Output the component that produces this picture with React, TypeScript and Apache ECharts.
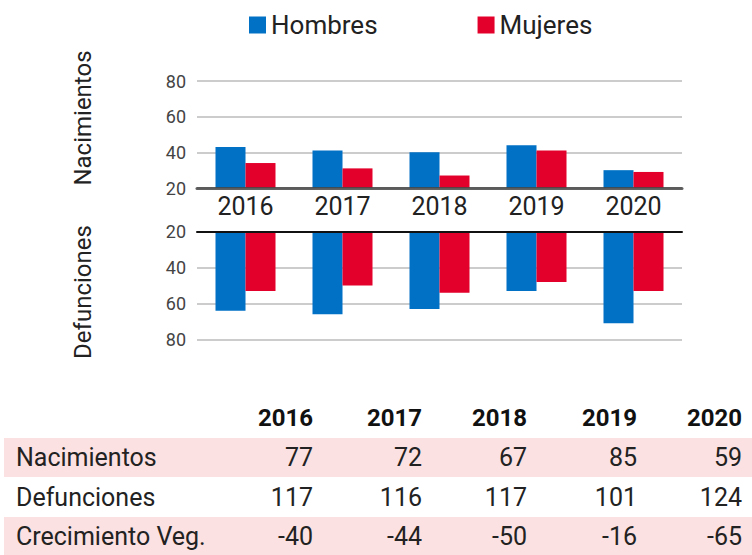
import React, { useEffect, useRef } from "react";
import * as echarts from "echarts";

const categories = ["2016", "2017", "2018", "2019", "2020"];
const nacHombres = [43, 41, 40, 44, 30];
const nacMujeres = [34, 31, 27, 41, 29];
const defHombres = [64, 66, 63, 53, 71];
const defMujeres = [53, 50, 54, 48, 53];

const rowLabels = ["Nacimientos", "Defunciones", "Crecimiento Veg."];
const tableNacimientos = [77, 72, 67, 85, 59];
const tableDefunciones = [117, 116, 117, 101, 124];
const tableCrecimiento = [-40, -44, -50, -16, -65];

const BLUE = "#0071C5";
const RED = "#E3002B";
const FONT = "Roboto";

export default function App() {
  const ref = useRef<HTMLDivElement>(null);
  useEffect(() => {
    if (!ref.current) return;
    const chart = echarts.init(ref.current, undefined, { renderer: "svg" });

    const colRight = [313, 422, 527, 637, 742];
    const rowY = [457, 497, 536];
    const tableRows = [tableNacimientos, tableDefunciones, tableCrecimiento];
    const graphics: any[] = [];
    graphics.push({ type: "rect", shape: { x: 4, y: 438, width: 748, height: 39 }, style: { fill: "#FBE1E1" }, z: 0 });
    graphics.push({ type: "rect", shape: { x: 4, y: 517, width: 748, height: 38 }, style: { fill: "#FBE1E1" }, z: 0 });
    categories.forEach((c, i) => {
      graphics.push({
        type: "text", x: colRight[i], y: 418, z: 2,
        style: { text: c, align: "right", verticalAlign: "middle", font: `bold 24px ${FONT}`, fill: "#111" },
      });
    });
    rowLabels.forEach((lab, r) => {
      graphics.push({
        type: "text", x: 16, y: rowY[r], z: 2,
        style: { text: lab, align: "left", verticalAlign: "middle", font: `25px ${FONT}`, fill: "#222" },
      });
      tableRows[r].forEach((v, i) => {
        graphics.push({
          type: "text", x: colRight[i], y: rowY[r], z: 2,
          style: { text: String(v), align: "right", verticalAlign: "middle", font: `25px ${FONT}`, fill: "#222" },
        });
      });
    });
    graphics.push({
      type: "text", x: 83, y: 118, rotation: Math.PI / 2, z: 2,
      style: { text: "Nacimientos", align: "center", verticalAlign: "middle", font: `24px ${FONT}`, fill: "#222" },
    });
    graphics.push({
      type: "text", x: 83, y: 292, rotation: Math.PI / 2, z: 2,
      style: { text: "Defunciones", align: "center", verticalAlign: "middle", font: `24px ${FONT}`, fill: "#222" },
    });

    const axisLabelStyle = { fontSize: 18, color: "#444", fontFamily: FONT, margin: 11 };
    const splitLine = { show: true, lineStyle: { color: "#CCCCCC", width: 2 } };

    chart.setOption({
      animation: false,
      textStyle: { fontFamily: FONT },
      legend: {
        top: 7,
        left: 244,
        icon: "rect",
        itemWidth: 17,
        itemHeight: 17,
        itemGap: 100,
        textStyle: { fontSize: 26, color: "#222", fontFamily: FONT },
        data: ["Hombres", "Mujeres"],
      },
      grid: [
        { left: 197, right: 70, top: 81, height: 107 },
        { left: 197, right: 70, top: 231.5, height: 108 },
      ],
      xAxis: [
        {
          type: "category", gridIndex: 0, data: categories, position: "bottom", z: 5,
          axisLine: { lineStyle: { color: "rgba(70,70,70,0.85)", width: 3 } },
          axisTick: { show: false },
          axisLabel: { fontSize: 25, color: "#222", fontFamily: FONT, margin: 6 },
        },
        {
          type: "category", gridIndex: 1, data: categories, position: "top", z: 5,
          axisLine: { lineStyle: { color: "#111", width: 2 } },
          axisTick: { show: false },
          axisLabel: { show: false },
        },
      ],
      yAxis: [
        {
          type: "value", gridIndex: 0, min: 20, max: 80, interval: 20, startValue: 20,
          axisLine: { show: false }, axisTick: { show: false },
          axisLabel: axisLabelStyle, splitLine,
        },
        {
          type: "value", gridIndex: 1, min: 20, max: 80, interval: 20, startValue: 20, inverse: true,
          axisLine: { show: false }, axisTick: { show: false },
          axisLabel: axisLabelStyle, splitLine,
        },
      ],
      series: [
        { name: "Hombres", type: "bar", xAxisIndex: 0, yAxisIndex: 0, data: nacHombres, barWidth: 30, barGap: "0%", clip: true, itemStyle: { color: BLUE } },
        { name: "Mujeres", type: "bar", xAxisIndex: 0, yAxisIndex: 0, data: nacMujeres, barWidth: 30, barGap: "0%", clip: true, itemStyle: { color: RED } },
        { name: "Hombres", type: "bar", xAxisIndex: 1, yAxisIndex: 1, data: defHombres, barWidth: 30, barGap: "0%", clip: true, itemStyle: { color: BLUE } },
        { name: "Mujeres", type: "bar", xAxisIndex: 1, yAxisIndex: 1, data: defMujeres, barWidth: 30, barGap: "0%", clip: true, itemStyle: { color: RED } },
      ],
      graphic: graphics,
    });
    return () => chart.dispose();
  }, []);
  return (
    <div
      ref={ref}
      style={{ position: "fixed", left: 0, top: 0, width: 752, height: 555, background: "#fff" }}
    />
  );
}
